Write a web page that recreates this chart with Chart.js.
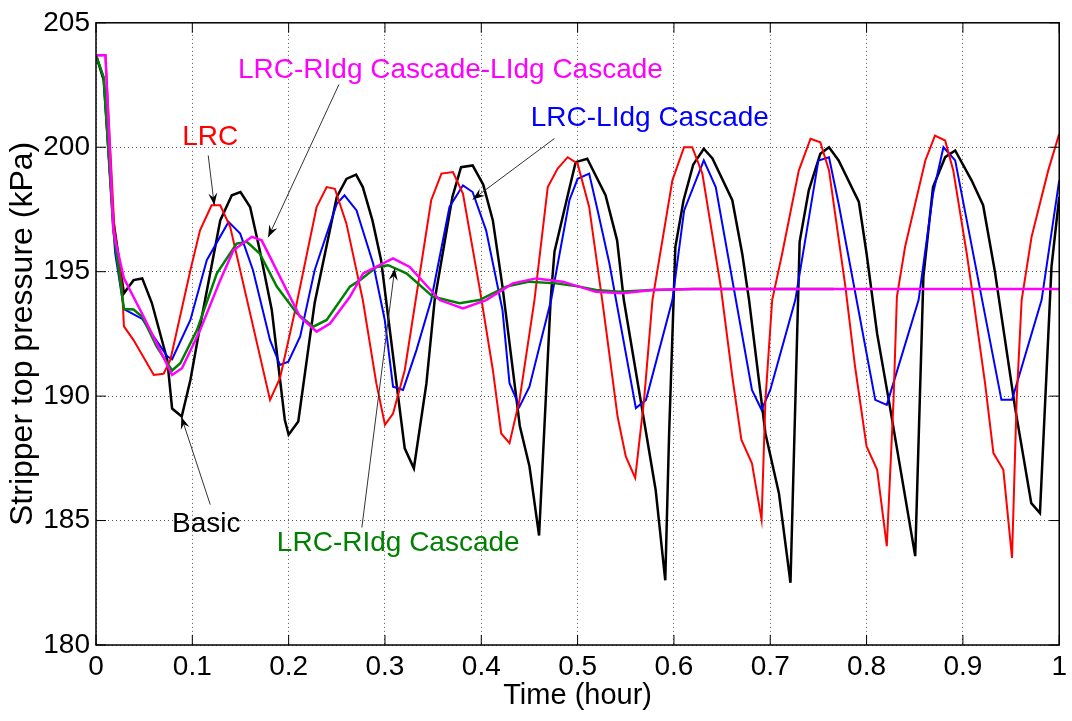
<!DOCTYPE html>
<html>
<head>
<meta charset="utf-8">
<script src="https://cdn.jsdelivr.net/npm/chart.js@4.4.1/dist/chart.umd.min.js"></script>
<style>
  body { margin: 0; background: #fff; }
  canvas { display: block; }
</style>
</head>
<body>
<canvas id="pressureChart" width="1072" height="721"></canvas>
<script>
// Time (hour) and stripper top pressure (kPa)
const basicT = [0, 0.008, 0.018, 0.029, 0.039, 0.048, 0.058, 0.074, 0.079, 0.089, 0.098, 0.108, 0.129, 0.141, 0.150, 0.160, 0.170, 0.1825, 0.196, 0.200, 0.210, 0.227, 0.250, 0.260, 0.270, 0.277, 0.287, 0.296, 0.312, 0.3205, 0.330, 0.343, 0.3516, 0.370, 0.379, 0.391, 0.402, 0.412, 0.422, 0.440, 0.450, 0.460, 0.472, 0.476, 0.491, 0.498, 0.510, 0.529, 0.541, 0.548, 0.581, 0.591, 0.595, 0.6015, 0.610, 0.620, 0.631, 0.640, 0.6606, 0.671, 0.678, 0.695, 0.709, 0.721, 0.7305, 0.740, 0.752, 0.761, 0.771, 0.792, 0.800, 0.811, 0.823, 0.8505, 0.859, 0.869, 0.8816, 0.892, 0.909, 0.921, 0.933, 0.954, 0.971, 0.980, 0.992, 1.0];
const basicP = [203.7, 202.7, 197.06, 194.13, 194.66, 194.73, 193.74, 191.45, 189.5, 189.18, 190.65, 192.8, 197.06, 198.07, 198.2, 197.6, 195.86, 193.46, 189.05, 188.45, 188.98, 193.74, 198.0, 198.73, 198.9, 198.4, 197.06, 195.46, 190.5, 187.9, 187.1, 190.5, 193.86, 198.0, 199.2, 199.27, 198.5, 197.06, 194.4, 188.8, 187.18, 184.4, 193.86, 195.8, 198.27, 199.4, 199.54, 198.07, 196.26, 193.86, 186.24, 182.6, 188.5, 196.0, 197.87, 199.3, 199.94, 199.55, 197.87, 195.7, 193.86, 188.5, 186.1, 182.5, 196.2, 198.27, 199.74, 200.0, 199.47, 197.8, 195.73, 192.5, 189.85, 183.57, 194.8, 198.4, 199.6, 199.87, 198.67, 197.67, 195.06, 189.58, 185.7, 185.3, 195.2, 198.0];

const lrcT = [0, 0.0098, 0.019, 0.027, 0.029, 0.039, 0.060, 0.0702, 0.0772, 0.098, 0.108, 0.120, 0.129, 0.1393, 0.1807, 0.191, 0.2084, 0.229, 0.2395, 0.248, 0.260, 0.277, 0.291, 0.300, 0.3084, 0.3206, 0.348, 0.3586, 0.3706, 0.381, 0.398, 0.412, 0.4207, 0.4293, 0.4397, 0.4552, 0.469, 0.4793, 0.4897, 0.500, 0.512, 0.526, 0.5415, 0.550, 0.5598, 0.569, 0.5777, 0.5984, 0.6105, 0.619, 0.6295, 0.6486, 0.6606, 0.670, 0.681, 0.691, 0.695, 0.702, 0.7124, 0.7297, 0.7418, 0.752, 0.761, 0.778, 0.788, 0.800, 0.811, 0.821, 0.828, 0.8315, 0.840, 0.861, 0.871, 0.8816, 0.890, 0.904, 0.911, 0.923, 0.9317, 0.942, 0.951, 0.9558, 0.961, 0.9713, 0.9886, 1.0];
const lrcP = [203.7, 203.7, 196.8, 194.4, 192.8, 192.25, 190.85, 190.9, 191.45, 195.06, 196.66, 197.67, 197.67, 196.8, 189.85, 190.72, 193.73, 197.6, 198.4, 198.33, 196.93, 193.86, 190.52, 188.85, 189.3, 191.05, 197.87, 198.94, 199.0, 198.13, 194.4, 191.05, 188.5, 188.11, 189.85, 193.86, 198.4, 199.14, 199.6, 199.34, 197.6, 193.73, 189.18, 187.58, 186.71, 189.85, 193.86, 198.67, 200.0, 200.0, 198.94, 194.4, 190.78, 188.25, 187.3, 185.04, 189.85, 193.86, 195.73, 199.07, 200.34, 200.2, 199.07, 194.4, 191.2, 187.98, 187.04, 183.97, 189.85, 194.0, 196.0, 199.47, 200.47, 200.27, 199.07, 195.73, 193.86, 190.52, 187.71, 187.04, 183.5, 189.85, 193.86, 196.4, 199.07, 200.54];

const lldgT = [0, 0.008, 0.018, 0.020, 0.029, 0.048, 0.058, 0.074, 0.079, 0.098, 0.115, 0.1376, 0.1497, 0.163, 0.1807, 0.191, 0.1997, 0.212, 0.227, 0.250, 0.258, 0.2705, 0.2877, 0.2998, 0.3084, 0.3188, 0.3327, 0.348, 0.367, 0.381, 0.391, 0.405, 0.422, 0.4293, 0.4397, 0.450, 0.4725, 0.4915, 0.500, 0.512, 0.5208, 0.533, 0.5605, 0.571, 0.5984, 0.6106, 0.631, 0.6434, 0.681, 0.691, 0.700, 0.726, 0.750, 0.761, 0.771, 0.809, 0.821, 0.854, 0.869, 0.8798, 0.892, 0.940, 0.951, 0.9817, 1.0];
const lldgP = [203.7, 202.8, 196.7, 195.73, 193.5, 193.1, 192.5, 191.6, 191.48, 193.06, 195.46, 197.0, 196.53, 195.06, 192.25, 191.25, 191.38, 192.4, 195.06, 197.73, 198.07, 197.46, 195.33, 193.06, 190.38, 190.25, 191.85, 193.86, 197.6, 198.47, 198.2, 196.66, 193.46, 190.52, 189.58, 190.38, 193.86, 197.87, 198.73, 198.94, 197.46, 195.33, 189.52, 189.85, 193.86, 197.46, 199.47, 198.4, 190.25, 189.45, 190.25, 193.86, 199.47, 199.6, 197.73, 189.85, 189.65, 193.86, 198.13, 200.0, 199.47, 189.85, 189.85, 193.86, 198.67];

const rldgT = [0, 0.008, 0.018, 0.029, 0.039, 0.048, 0.063, 0.079, 0.0875, 0.1048, 0.1255, 0.146, 0.1566, 0.170, 0.1877, 0.2084, 0.2256, 0.2395, 0.2636, 0.274, 0.2912, 0.3033, 0.3223, 0.350, 0.3775, 0.398, 0.426, 0.450, 0.4777, 0.5018, 0.519, 0.543, 0.5777, 0.620, 0.766];
const rldgP = [203.7, 202.8, 196.7, 193.5, 193.48, 193.19, 191.99, 191.03, 191.32, 192.65, 194.93, 196.13, 196.2, 195.73, 194.4, 193.33, 192.79, 193.06, 194.4, 194.66, 195.19, 195.26, 194.93, 193.99, 193.73, 193.86, 194.4, 194.6, 194.53, 194.4, 194.26, 194.19, 194.26, 194.3, 194.3];

const bothT = [0, 0.0098, 0.018, 0.020, 0.029, 0.0495, 0.063, 0.079, 0.0893, 0.108, 0.129, 0.1427, 0.1618, 0.172, 0.191, 0.2118, 0.229, 0.243, 0.2636, 0.2774, 0.3084, 0.3257, 0.3568, 0.381, 0.405, 0.4327, 0.457, 0.4845, 0.519, 0.5467, 0.5777, 0.619, 1.0];
const bothP = [203.7, 203.7, 196.7, 196.26, 194.73, 193.19, 192.12, 190.85, 191.12, 192.65, 194.66, 195.86, 196.4, 196.26, 194.79, 193.19, 192.59, 192.92, 193.99, 194.93, 195.53, 195.19, 193.86, 193.52, 193.86, 194.53, 194.73, 194.6, 194.19, 194.13, 194.26, 194.3, 194.3];

const xTicks = [0, 0.1, 0.2, 0.3, 0.4, 0.5, 0.6, 0.7, 0.8, 0.9, 1];
const yTicks = [180, 185, 190, 195, 200, 205];

const FONT = "'Liberation Sans', Arial, sans-serif";

function pts(t, p) {
  return t.map((x, i) => ({ x: x, y: p[i] }));
}

// labels + arrows placed in data units (x = hour, y = kPa)
const notes = [
  { text: 'LRC-RIdg Cascade-LIdg Cascade', color: '#ff00ff', x: 0.368, y: 203.08, from: [0.2522, 202.52], to: [0.1787, 196.38] },
  { text: 'LRC', color: '#ff0000', x: 0.1186, y: 200.39, from: [0.1165, 199.67], to: [0.1228, 197.67] },
  { text: 'LRC-LIdg Cascade', color: '#0000ff', x: 0.575, y: 201.15, from: [0.4759, 200.35], to: [0.391, 197.9] },
  { text: 'Basic', color: '#000000', x: 0.1145, y: 184.84, from: [0.1186, 185.64], to: [0.0886, 189.17] },
  { text: 'LRC-RIdg Cascade', color: '#008000', x: 0.3138, y: 184.08, from: [0.276, 184.72], to: [0.3102, 195.14] }
];

const framePlugin = {
  id: 'frame',
  afterDraw(chart) {
    const ctx = chart.ctx;
    const a = chart.chartArea;
    const xs = chart.scales.x, ys = chart.scales.y;
    ctx.save();
    ctx.strokeStyle = '#000';
    ctx.lineWidth = 1.5;
    ctx.strokeRect(a.left, a.top, a.right - a.left, a.bottom - a.top);
    // inward ticks, matlab style
    ctx.lineWidth = 1;
    ctx.beginPath();
    xTicks.forEach(v => {
      const px = xs.getPixelForValue(v);
      ctx.moveTo(px, a.bottom); ctx.lineTo(px, a.bottom - 10);
      ctx.moveTo(px, a.top); ctx.lineTo(px, a.top + 10);
    });
    yTicks.forEach(v => {
      const py = ys.getPixelForValue(v);
      ctx.moveTo(a.left, py); ctx.lineTo(a.left + 10, py);
      ctx.moveTo(a.right, py); ctx.lineTo(a.right - 10, py);
    });
    ctx.stroke();

    // annotations
    notes.forEach(n => {
      const x0 = xs.getPixelForValue(n.from[0]), y0 = ys.getPixelForValue(n.from[1]);
      const x1 = xs.getPixelForValue(n.to[0]), y1 = ys.getPixelForValue(n.to[1]);
      ctx.strokeStyle = '#333';
      ctx.lineWidth = 1;
      ctx.beginPath();
      ctx.moveTo(x0, y0); ctx.lineTo(x1, y1);
      ctx.stroke();
      const ang = Math.atan2(y1 - y0, x1 - x0);
      const len = 13, w = 0.35;
      ctx.fillStyle = '#000';
      ctx.beginPath();
      ctx.moveTo(x1, y1);
      ctx.lineTo(x1 - len * Math.cos(ang - w), y1 - len * Math.sin(ang - w));
      ctx.lineTo(x1 - len * 0.6 * Math.cos(ang), y1 - len * 0.6 * Math.sin(ang));
      ctx.lineTo(x1 - len * Math.cos(ang + w), y1 - len * Math.sin(ang + w));
      ctx.closePath();
      ctx.fill();

      ctx.fillStyle = n.color;
      ctx.font = '28px ' + FONT;
      ctx.textAlign = 'center';
      ctx.textBaseline = 'middle';
      ctx.fillText(n.text, xs.getPixelForValue(n.x), ys.getPixelForValue(n.y));
    });
    ctx.restore();
  }
};

const ctx = document.getElementById('pressureChart').getContext('2d');
new Chart(ctx, {
  type: 'line',
  data: {
    datasets: [
      { label: 'LRC-RIdg Cascade-LIdg Cascade', data: pts(bothT, bothP), borderColor: '#ff00ff', borderWidth: 2.5 },
      { label: 'LRC-RIdg Cascade', data: pts(rldgT, rldgP), borderColor: '#008000', borderWidth: 2.5 },
      { label: 'LRC', data: pts(lrcT, lrcP), borderColor: '#ff0000', borderWidth: 2 },
      { label: 'LRC-LIdg Cascade', data: pts(lldgT, lldgP), borderColor: '#0000ff', borderWidth: 2 },
      { label: 'Basic', data: pts(basicT, basicP), borderColor: '#000000', borderWidth: 2.5 }
    ].map(d => Object.assign(d, { pointRadius: 0, fill: false, tension: 0 }))
  },
  options: {
    responsive: false,
    animation: false,
    layout: { padding: { top: 22, right: 10, left: 0, bottom: 0 } },
    plugins: {
      legend: { display: false },
      tooltip: { enabled: false }
    },
    scales: {
      x: {
        type: 'linear',
        min: 0,
        max: 1,
        afterFit: s => { s.height = 76; },
        afterBuildTicks: s => { s.ticks = xTicks.map(v => ({ value: v })); },
        ticks: {
          color: '#000',
          padding: 5,
          maxRotation: 0,
          font: { family: FONT, size: 28 },
          callback: v => (v === 0 || v === 1) ? String(v) : v.toFixed(1)
        },
        grid: { color: '#555', lineWidth: 1, tickLength: 0, drawTicks: false },
        border: { display: false, dash: [1, 3] },
        title: {
          display: true,
          text: 'Time (hour)',
          color: '#000',
          font: { family: FONT, size: 29 },
          padding: { top: 0, bottom: 8 }
        }
      },
      y: {
        min: 180,
        max: 205,
        afterFit: s => { s.width = 96; },
        afterBuildTicks: s => { s.ticks = yTicks.map(v => ({ value: v })); },
        ticks: {
          color: '#000',
          padding: 6,
          font: { family: FONT, size: 28 }
        },
        grid: { color: '#555', lineWidth: 1, drawTicks: false },
        border: { display: false, dash: [1, 3] },
        title: {
          display: true,
          text: 'Stripper top pressure (kPa)',
          color: '#000',
          font: { family: FONT, size: 32 },
          padding: { top: 4, bottom: 0 }
        }
      }
    }
  },
  plugins: [framePlugin]
});
</script>
</body>
</html>
